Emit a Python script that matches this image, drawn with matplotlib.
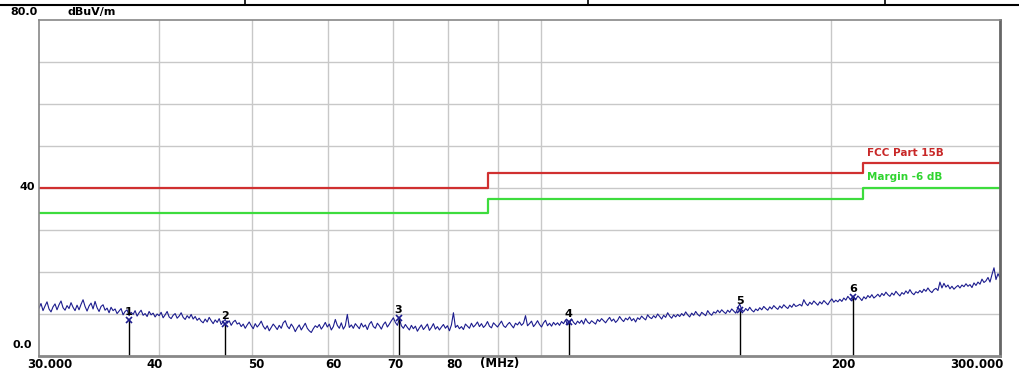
import numpy as np
import matplotlib
matplotlib.use('Agg')
import matplotlib.pyplot as plt
from matplotlib.lines import Line2D

# limit lines (MHz edges, dBuV/m)
limit_freq = [30, 88, 88, 216, 216, 300]
fcc_limit = [40, 40, 43.5, 43.5, 46, 46]
margin_limit = [34, 34, 37.5, 37.5, 40, 40]

# markers
marker_freq = [37.2, 46.8, 71.0, 106.7, 161.0, 211.0]
marker_level = [8.6, 7.6, 9.0, 8.0, 11.0, 14.0]
marker_names = ['1', '2', '3', '4', '5', '6']

# sweep trace (dBuV/m), 30 -> 300 MHz log sweep
trace = [
    11.4, 12.5, 10.8, 11.9, 12.9, 11.2, 10.5, 11.7, 12.4, 11.0, 12.2, 13.1, 11.5, 10.9, 12.0, 11.3, 12.7, 11.6, 10.8, 12.1,
    11.0, 12.3, 13.4, 11.8, 10.7, 11.9, 12.6, 11.2, 13.0, 11.5, 10.6, 11.8, 12.2, 10.9, 11.4, 10.3, 11.6, 10.8, 11.2, 10.1,
    10.7, 11.3, 9.8, 10.6, 11.0, 9.6, 10.4, 9.9, 10.8, 9.5, 10.3, 10.9, 9.7, 10.1, 9.4, 10.6, 9.8, 10.2, 9.3, 10.0,
    9.6, 10.4, 9.1, 9.8, 10.6, 9.3, 8.9, 9.7, 10.1, 9.0, 9.5, 10.3, 9.2, 8.7, 9.6, 9.0, 9.9, 8.8, 9.4, 8.5,
    9.0, 8.3, 7.9, 8.8, 8.1, 9.2, 8.4, 7.7, 8.6, 8.0, 8.9, 7.5, 8.2, 8.7, 7.8, 8.4, 7.3, 8.1, 8.5, 7.6,
    7.9, 7.0, 7.6, 6.6, 7.4, 8.1, 7.2, 6.5, 7.7, 6.9, 7.5, 8.3, 7.1, 6.4, 7.2, 6.0, 6.8, 7.6, 7.0, 6.3,
    7.3, 6.6, 7.9, 8.4, 7.1, 6.5, 7.6, 6.9, 5.8, 6.7, 7.4, 6.2, 7.0, 7.8, 6.6, 6.0, 5.6, 6.5, 7.2, 6.8,
    7.5, 6.4, 7.1, 8.0, 6.9, 7.6, 6.2, 7.0, 8.7, 7.3, 6.6, 7.9, 6.4, 7.2, 9.9, 6.8, 7.4, 6.6, 7.7, 7.1,
    6.5, 7.8, 6.9, 7.4, 6.3, 7.6, 8.2, 7.0, 6.6, 7.8, 7.2, 6.4, 7.5, 8.1, 6.9, 7.6, 8.4, 9.1, 8.0, 7.3,
    8.9, 7.2, 6.6, 7.5, 6.8, 6.2, 7.3, 6.5, 7.1, 5.9, 6.7, 7.4, 6.3, 6.9, 7.6, 6.1, 6.8, 7.7, 6.4, 7.0,
    6.2, 6.9, 7.5, 6.6, 7.2, 6.0, 7.4, 10.3, 6.8, 7.3, 6.5, 7.0, 6.3, 7.6, 7.1, 6.6, 7.8, 6.9, 7.4, 8.1,
    7.0, 7.7, 6.8, 7.3, 8.2, 7.1, 6.7, 7.9, 7.4, 6.9, 7.6, 8.3, 7.2, 6.8, 7.5, 8.0, 7.3, 6.7, 7.8, 7.4,
    8.1, 7.3, 7.8, 9.6, 7.2, 7.7, 8.3, 7.0, 7.6, 8.4, 7.5, 6.9, 7.9, 8.5, 7.2, 7.8, 7.1, 8.0, 7.4, 7.9,
    7.3, 8.2, 7.7, 8.6, 7.4, 7.9, 8.8, 8.0, 7.5, 8.3, 7.8, 8.5, 7.6, 8.9, 8.1, 7.7, 8.4, 8.0, 7.6, 8.7,
    8.2, 8.9, 8.4, 7.9, 8.6, 9.2, 8.3, 8.8, 8.0, 8.5, 9.4, 8.7, 8.2, 9.0, 8.6, 9.3, 8.4, 8.9, 8.1, 9.1,
    8.7, 9.5, 9.0, 8.6, 9.8, 9.2, 8.9, 9.6, 9.1, 10.0, 9.4, 8.8, 9.7, 9.2, 10.3, 9.5, 9.0, 9.8, 9.3, 9.9,
    9.4, 10.1, 9.6, 10.5, 9.8, 9.3, 10.2, 9.7, 10.6, 9.9, 9.5, 10.4, 10.0, 9.6, 10.8, 10.1, 9.7, 10.5, 10.2, 10.9,
    10.3, 11.0, 10.5, 10.1, 10.9, 10.4, 11.2, 10.7, 10.2, 11.4, 12.4, 11.0, 10.6, 11.3, 10.8, 11.6, 10.9, 10.5, 11.2, 10.8,
    11.5, 11.0, 11.8, 11.3, 10.9, 11.7, 11.2, 12.0, 11.5, 11.1, 11.9, 11.4, 12.2, 11.7, 11.3, 12.1, 11.6, 12.4, 11.8, 12.0,
    12.3, 11.9, 13.4, 12.5, 12.0, 12.8, 12.3, 13.1, 12.6, 12.1, 12.9, 12.4, 13.2, 12.7, 12.2, 13.0, 13.6, 12.8, 13.3, 12.9,
    13.5, 13.0, 13.8, 13.3, 14.2, 13.6, 13.1, 14.0, 13.5, 14.3, 13.8, 13.2, 14.1, 13.6, 14.4, 13.9, 14.6, 13.8, 14.2, 14.7,
    14.1, 14.9, 14.4, 15.2, 14.6, 14.2, 15.0, 14.5, 15.4, 14.8, 14.3, 15.1, 14.7, 15.5, 14.9, 15.8, 15.0, 14.6, 15.3, 15.0,
    15.6, 15.1, 15.9, 15.4, 16.2, 15.5, 15.1, 15.8, 16.1, 15.6, 17.6, 16.2, 17.3, 16.4, 16.9, 16.0, 16.6, 15.9, 16.4, 16.8,
    16.2, 16.9, 16.5, 17.2, 16.6, 17.0, 16.3, 17.4, 16.8, 17.6, 17.1, 18.3, 17.5, 17.9, 18.7, 17.6, 19.4, 21.0, 18.2, 19.6,
    18.6,
]
freq = np.logspace(np.log10(30), np.log10(300), len(trace))

grid_freq = [40, 50, 60, 70, 80, 90, 100, 200]
# x labels: text and pixel centre
xtick_text = ['30.000', '40', '50', '60', '70', '80', '(MHz)', '200']
xtick_px = [50, 155, 256, 333, 395, 454, 500, 843]

fig = plt.figure(figsize=(10.2, 3.72), dpi=100)
ax = fig.add_axes([39 / 1020, 1 - 356 / 372, 961 / 1020, 336 / 372])
ax.set_xscale('log')
ax.set_xlim(30, 300)
ax.set_ylim(0, 80)

for f in grid_freq:
    ax.axvline(f, color='#c8c8c8', lw=1, zorder=0)
for v in range(10, 80, 10):
    ax.axhline(v, color='#c8c8c8', lw=1, zorder=0)

ax.plot(limit_freq, fcc_limit, color='#d03030', lw=1.6)
ax.plot(limit_freq, margin_limit, color='#3ddc3d', lw=1.6)
ax.text(218, 47.6, 'FCC Part 15B', color='#c82828', fontsize=7.5, fontweight='bold')
ax.text(218, 41.8, 'Margin -6 dB', color='#2fd42f', fontsize=7.5, fontweight='bold')

ax.plot(freq, trace, color='#1c1c8e', lw=0.8)

for f, lv, n in zip(marker_freq, marker_level, marker_names):
    ax.vlines(f, 0, lv, color='black', lw=1)
    ax.plot(f, lv, marker='x', color='#1c1c8e', ms=5, mew=1.2)
    ax.text(f, lv + 0.8, n, ha='center', va='bottom', fontsize=8, fontweight='bold')

ax.set_xticks([])
ax.set_yticks([])
ax.xaxis.set_minor_locator(matplotlib.ticker.NullLocator())
for s in ax.spines.values():
    s.set_color('#888888')
    s.set_linewidth(1.2)
ax.spines['right'].set_color('#666666')
ax.spines['right'].set_linewidth(2)
ax.spines['bottom'].set_linewidth(2)

ly = 1 - 364 / 372
for px, t in zip(xtick_px, xtick_text):
    fig.text(px / 1020, ly, t, ha='center', va='center', fontsize=8.5, fontweight='bold')
fig.text(1004 / 1020, ly, '300.000', ha='right', va='center', fontsize=8.5, fontweight='bold')

fig.text(24 / 1020, 1 - 12 / 372, '80.0', ha='center', va='center', fontsize=8, fontweight='bold')
fig.text(92 / 1020, 1 - 12 / 372, 'dBuV/m', ha='center', va='center', fontsize=8, fontweight='bold')
fig.text(27 / 1020, 1 - 187 / 372, '40', ha='center', va='center', fontsize=8, fontweight='bold')
fig.text(22 / 1020, 1 - 345 / 372, '0.0', ha='center', va='center', fontsize=8, fontweight='bold')

# table border strip at the top
fig.add_artist(Line2D([0, 1], [1 - 5 / 372, 1 - 5 / 372], color='black', lw=1.5))
for xv in [245, 588, 885]:
    fig.add_artist(Line2D([xv / 1020, xv / 1020], [1 - 5 / 372, 1], color='black', lw=1.2))

fig.savefig('out.png', dpi=100)
